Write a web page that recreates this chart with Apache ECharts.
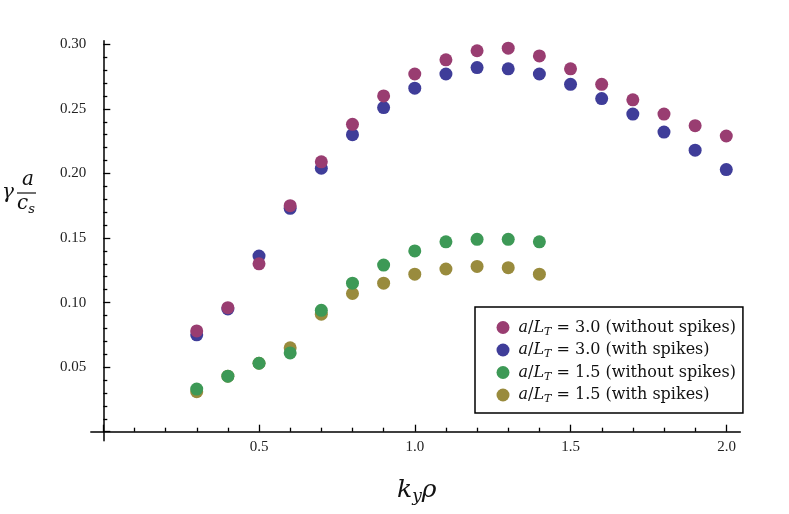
<!DOCTYPE html>
<html><head><meta charset="utf-8">
<script src="https://cdn.jsdelivr.net/npm/echarts@6/dist/echarts.min.js"></script>
<style>html,body{margin:0;padding:0;background:#fff}#c{width:789px;height:514px}</style>
</head><body><div id="c"></div><script>
// ---- data ----
const kyRho = [0.3,0.4,0.5,0.6,0.7,0.8,0.9,1.0,1.1,1.2,1.3,1.4,1.5,1.6,1.7,1.8,1.9,2.0];
const kyRhoShort = [0.3,0.4,0.5,0.6,0.7,0.8,0.9,1.0,1.1,1.2,1.3,1.4];
const lt30NoSpikes = [0.078,0.096,0.130,0.175,0.209,0.238,0.260,0.277,0.288,0.295,0.297,0.291,0.281,0.269,0.257,0.246,0.237,0.229];
const lt30Spikes   = [0.075,0.095,0.136,0.173,0.204,0.230,0.251,0.266,0.277,0.282,0.281,0.277,0.269,0.258,0.246,0.232,0.218,0.203];
const lt15NoSpikes = [0.033,0.043,0.053,0.061,0.094,0.115,0.129,0.140,0.147,0.149,0.149,0.147];
const lt15Spikes   = [0.031,0.043,0.053,0.065,0.091,0.107,0.115,0.122,0.126,0.128,0.127,0.122];
const seriesNames = ['a/L_T = 3.0 (without spikes)','a/L_T = 3.0 (with spikes)','a/L_T = 1.5 (without spikes)','a/L_T = 1.5 (with spikes)'];
const xTickLabels = ['0.5','1.0','1.5','2.0'];
const yTickLabels = ['0.05','0.10','0.15','0.20','0.25','0.30'];

const pair = (xs, ys) => xs.map((x, i) => [x, ys[i]]);
const FONT = 'DejaVu Serif';
const TICKFONT = 'Liberation Serif';
const colors = {m:'#993d71', b:'#3f3d99', g:'#3d9956', y:'#998b3d'};

const chart = echarts.init(document.getElementById('c'), null, {renderer:'canvas'});
const mkSeries = (name, data, color) => ({
  type:'scatter', name, data, xAxisIndex:0, yAxisIndex:0,
  symbol:'circle', symbolSize:13, itemStyle:{color, opacity:1}, emphasis:{disabled:true}, clip:false
});
const lbl = (list) => (v) => { const s = list.find(l => Math.abs(+l - v) < 1e-9); return s || ''; };

chart.setOption({
  animation:false,
  backgroundColor:'#fff',
  grid:[
    {left:90.8, top:40.7, width:649.5, height:400, containLabel:false},
    {left:103.3, top:44.3, width:623.2, height:387.4, containLabel:false}
  ],
  xAxis:[
    {gridIndex:0, type:'value', min:-0.04, max:2.045,
     axisLine:{onZero:true, lineStyle:{color:'#000', width:1.5}},
     axisTick:{show:false}, axisLabel:{show:false}, splitLine:{show:false}},
    {gridIndex:1, type:'value', min:0, max:2, interval:0.5, position:'bottom',
     axisLine:{show:false},
     axisTick:{show:true, inside:true, length:7, lineStyle:{color:'#000', width:1.3}},
     minorTick:{show:true, splitNumber:5, length:4, lineStyle:{color:'#000', width:1.3}},
     axisLabel:{show:true, margin:8, fontFamily:TICKFONT, fontSize:15, color:'#222', formatter:lbl(xTickLabels)},
     splitLine:{show:false}, minorSplitLine:{show:false}}
  ],
  yAxis:[
    {gridIndex:0, type:'value', min:-0.007, max:0.3028,
     axisLine:{onZero:true, lineStyle:{color:'#000', width:1.5}},
     axisTick:{show:false}, axisLabel:{show:false}, splitLine:{show:false}},
    {gridIndex:1, type:'value', min:0, max:0.30, interval:0.05, position:'left',
     axisLine:{show:false},
     axisTick:{show:true, inside:true, length:7, lineStyle:{color:'#000', width:1.3}},
     minorTick:{show:true, splitNumber:5, length:4, lineStyle:{color:'#000', width:1.3}},
     axisLabel:{show:true, margin:17, fontFamily:TICKFONT, fontSize:15, color:'#222', formatter:lbl(yTickLabels)},
     splitLine:{show:false}, minorSplitLine:{show:false}}
  ],
  legend:{
    orient:'vertical', left:475, top:307,
    data:[seriesNames[0], seriesNames[1], seriesNames[2], seriesNames[3]],
    icon:'circle', itemWidth:13, itemHeight:13, itemGap:4.5,
    padding:[12.5, 7, 8, 21.5],
    borderColor:'#000', borderWidth:1.5, backgroundColor:'#fff',
    selectedMode:false,
    formatter:(name) => { const parts = name.split('L_T'); return '{i|a}{n|/}{i|L}{sub|T}{n|' + parts[1] + '}'; },
    textStyle:{fontFamily:FONT, fontSize:16, color:'#111', padding:[0,0,0,4],
      rich:{
        i:{fontFamily:FONT, fontStyle:'italic', fontSize:16, lineHeight:20, color:'#111'},
        n:{fontFamily:FONT, fontSize:16, lineHeight:20, color:'#111'},
        sub:{fontFamily:FONT, fontStyle:'italic', fontSize:11, lineHeight:12, verticalAlign:'bottom', color:'#111'}
      }}
  },
  series:[
    mkSeries(seriesNames[1], pair(kyRho, lt30Spikes), colors.b),
    mkSeries(seriesNames[0], pair(kyRho, lt30NoSpikes), colors.m),
    mkSeries(seriesNames[3], pair(kyRhoShort, lt15Spikes), colors.y),
    mkSeries(seriesNames[2], pair(kyRhoShort, lt15NoSpikes), colors.g)
  ],
  graphic:[
    {type:'text', left:397, top:478, style:{text:'{k|k}{s|y}{r|ρ}', rich:{
      k:{fontFamily:FONT, fontStyle:'italic', fontSize:25, lineHeight:30, fill:'#111'},
      s:{fontFamily:FONT, fontStyle:'italic', fontSize:17, lineHeight:16, verticalAlign:'bottom', fill:'#111'},
      r:{fontFamily:FONT, fontStyle:'italic', fontSize:25, lineHeight:30, fill:'#111'}}}},
    {type:'text', left:2, top:183, style:{text:'γ', fontFamily:FONT, fontStyle:'italic', fontSize:20, fill:'#111'}},
    {type:'text', left:22, top:170, style:{text:'a', fontFamily:FONT, fontStyle:'italic', fontSize:20, fill:'#111'}},
    {type:'line', shape:{x1:17, y1:193, x2:36, y2:193}, style:{stroke:'#111', lineWidth:1.2}},
    {type:'text', left:17, top:194, style:{text:'{c|c}{s|s}', rich:{
      c:{fontFamily:FONT, fontStyle:'italic', fontSize:20, lineHeight:24, fill:'#111'},
      s:{fontFamily:FONT, fontStyle:'italic', fontSize:13, lineHeight:14, verticalAlign:'bottom', fill:'#111'}}}}
  ]
});
</script></body></html>
